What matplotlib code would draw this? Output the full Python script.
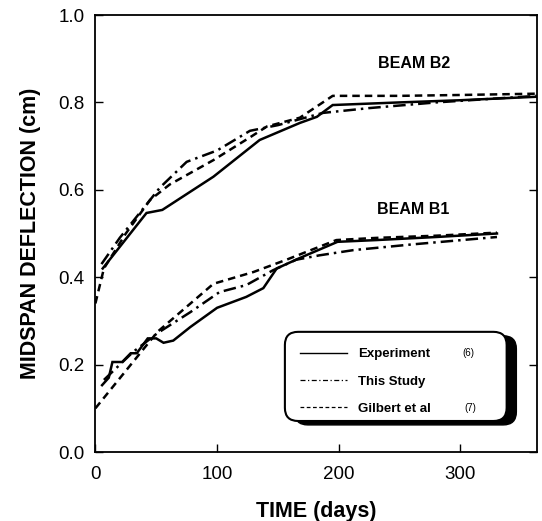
import matplotlib
matplotlib.use("Agg")
import matplotlib.pyplot as plt
from matplotlib.lines import Line2D
from matplotlib.patches import FancyBboxPatch

plt.rcParams["font.family"] = ["Liberation Sans", "DejaVu Sans"]

# Beam B2
b2_exp_t = [6, 42, 55, 97, 135, 168, 182, 195, 250, 300, 363]
b2_exp_d = [0.42, 0.547, 0.554, 0.63, 0.714, 0.753, 0.767, 0.794, 0.80, 0.805, 0.813]
b2_study_t = [5, 20, 43, 53, 75, 100, 127, 150, 187, 225, 280, 363]
b2_study_d = [0.43, 0.49, 0.57, 0.605, 0.664, 0.69, 0.735, 0.748, 0.776, 0.787, 0.80, 0.815]
b2_gilbert_t = [0, 7, 25, 45, 61, 97, 127, 141, 168, 195, 250, 300, 363]
b2_gilbert_d = [0.34, 0.42, 0.50, 0.577, 0.612, 0.668, 0.72, 0.745, 0.765, 0.815, 0.815, 0.817, 0.82]

# Beam B1
b1_exp_t = [5.5, 11, 14, 22, 29, 34, 43, 50, 56, 64, 78, 100, 124, 138, 149, 168, 199, 231, 280, 330]
b1_exp_d = [0.153, 0.17, 0.206, 0.206, 0.226, 0.226, 0.26, 0.26, 0.25, 0.255, 0.286, 0.33,
            0.355, 0.375, 0.42, 0.444, 0.481, 0.485, 0.492, 0.50]
b1_study_t = [7, 31, 51, 78, 102, 124, 146, 165, 184, 212, 260, 330]
b1_study_d = [0.165, 0.229, 0.272, 0.32, 0.366, 0.382, 0.416, 0.44, 0.45, 0.462, 0.475, 0.492]
b1_gilbert_t = [0, 51, 97, 130, 157, 198, 231, 280, 330]
b1_gilbert_d = [0.10, 0.275, 0.385, 0.412, 0.44, 0.485, 0.49, 0.495, 0.502]

labels = ["Experiment", "This Study", "Gilbert et al"]
refs = ["(6)", "(7)"]

lw = 1.8
solid = dict(color="black", lw=lw, solid_joinstyle="miter")
dashdot = dict(color="black", lw=lw, linestyle=(0, (5, 2, 1, 2)))
dashed = dict(color="black", lw=lw, linestyle=(0, (3, 2)))

fig = plt.figure(figsize=(5.42, 5.21), dpi=100)
ax = fig.add_axes([0.176, 0.1324, 0.815, 0.8388])

ax.plot(b2_exp_t, b2_exp_d, **solid)
ax.plot(b2_study_t, b2_study_d, **dashdot)
ax.plot(b2_gilbert_t, b2_gilbert_d, **dashed)
ax.plot(b1_exp_t, b1_exp_d, **solid)
ax.plot(b1_study_t, b1_study_d, **dashdot)
ax.plot(b1_gilbert_t, b1_gilbert_d, **dashed)

ax.set_xlim(0, 363)
ax.set_ylim(0, 1.0)
ax.set_xticks([0, 100, 200, 300])
ax.set_yticks([0.0, 0.2, 0.4, 0.6, 0.8, 1.0])
ax.set_yticklabels(["0.0", "0.2", "0.4", "0.6", "0.8", "1.0"])
ax.tick_params(direction="in", length=6, width=1, labelsize=13.5, pad=8, right=True)
ax.tick_params(axis="x", pad=10)
for s in ax.spines.values():
    s.set_linewidth(1.3)

ax.set_xlabel("TIME (days)", fontsize=15.5, fontweight="bold", labelpad=13)
ax.set_ylabel("MIDSPAN DEFLECTION (cm)", fontsize=15.5, fontweight="bold", labelpad=12)

ax.text(262, 0.89, "BEAM B2", fontsize=11.5, fontweight="bold", ha="center", va="center")
ax.text(261, 0.554, "BEAM B1", fontsize=11.5, fontweight="bold", ha="center", va="center")

# legend box with heavy shadow
box_x, box_y, box_w, box_h = 0.429, 0.071, 0.502, 0.204
shadow = FancyBboxPatch((box_x + 0.022, box_y - 0.009), box_w, box_h,
                        boxstyle="round,pad=0,rounding_size=0.03",
                        transform=ax.transAxes, fc="black", ec="black", zorder=4)
frame = FancyBboxPatch((box_x, box_y), box_w, box_h,
                       boxstyle="round,pad=0,rounding_size=0.03",
                       transform=ax.transAxes, fc="white", ec="black", lw=1.5, zorder=5)
ax.add_patch(shadow)
ax.add_patch(frame)

handles = [Line2D([], [], color="black", lw=1.0),
           Line2D([], [], color="black", lw=0.9, linestyle=(0, (4, 2, 1, 2))),
           Line2D([], [], color="black", lw=0.9, linestyle=(0, (3, 2)))]
leg = ax.legend(handles, labels, loc="upper left", bbox_to_anchor=(0.463, 0.238),
                frameon=False, borderpad=0, borderaxespad=0, handlelength=3.6,
                handletextpad=0.8, labelspacing=1.14,
                prop=dict(size=9.5, weight="bold"))
leg.set_zorder(6)

ax.text(0.83, 0.226, refs[0], transform=ax.transAxes, fontsize=7, ha="left",
        va="center", zorder=7)
ax.text(0.836, 0.1, refs[1], transform=ax.transAxes, fontsize=7, ha="left",
        va="center", zorder=7)

fig.savefig("out.png", dpi=100)
